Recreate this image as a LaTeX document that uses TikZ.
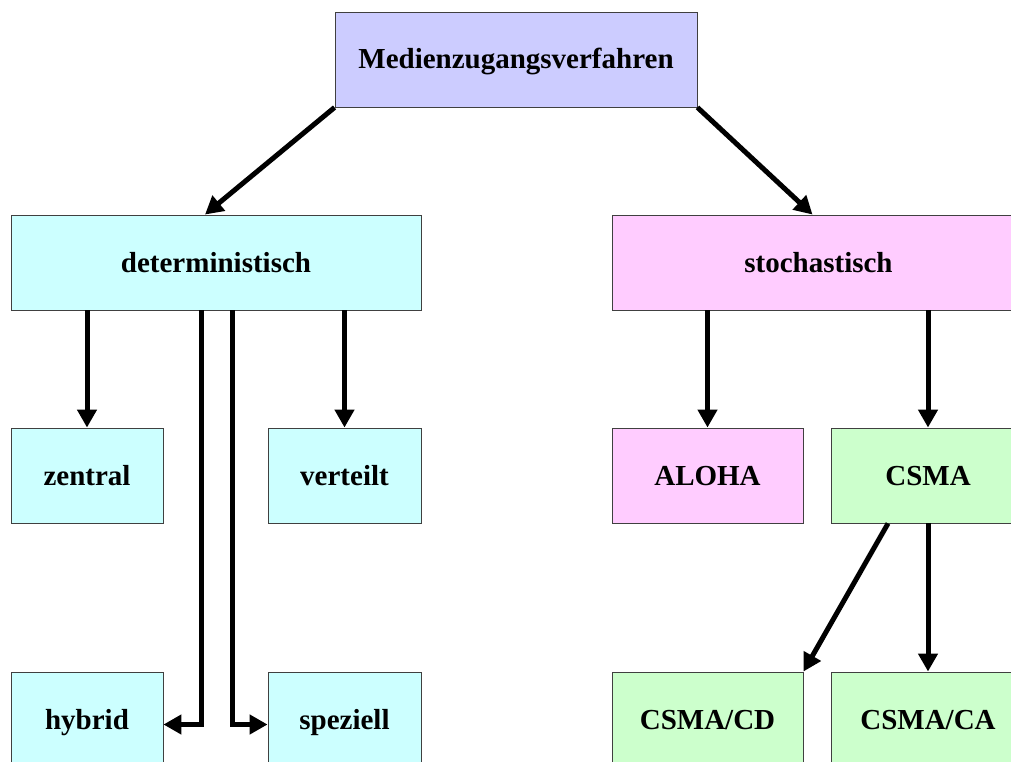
\documentclass[tikz,border=0pt]{standalone}
\usepackage{fontspec}
\setmainfont{Liberation Serif}
\usetikzlibrary{arrows.meta}

\begin{document}
\begin{tikzpicture}[x=1pt,y=-1pt,>={Triangle[length=18pt,width=19pt]},
    box/.style={draw=black!75,line width=0.9pt,minimum height=95pt,inner sep=0pt,
      text height=24pt,text depth=5pt,
      font=\fontsize{29}{34}\selectfont\bfseries},
    link/.style={->,line width=5pt}]
      \useasboundingbox (0,0) rectangle (1011,762);
      \clip (0,0) rectangle (1011,762);

      \node[box,fill={rgb,255:red,204;green,204;blue,255},minimum width=362pt] (mzv) at (516,59.5) {Medienzugangsverfahren};

      \node[box,fill={rgb,255:red,204;green,255;blue,255},minimum width=410pt] (det) at (216,262.5) {deterministisch};
      \node[box,fill={rgb,255:red,255;green,204;blue,255},minimum width=413pt] (sto) at (818.5,262.5) {stochastisch};

      \node[box,fill={rgb,255:red,204;green,255;blue,255},minimum width=152pt] (zen) at (87,475.5) {zentral};
      \node[box,fill={rgb,255:red,204;green,255;blue,255},minimum width=153pt] (ver) at (344.5,475.5) {verteilt};
      \node[box,fill={rgb,255:red,255;green,204;blue,255},minimum width=191pt] (aloha) at (707.5,475.5) {ALOHA};
      \node[box,fill={rgb,255:red,204;green,255;blue,204},minimum width=194pt] (csma) at (928,475.5) {CSMA};

      \node[box,fill={rgb,255:red,204;green,255;blue,255},minimum width=152pt] (hyb) at (87,719.5) {hybrid};
      \node[box,fill={rgb,255:red,204;green,255;blue,255},minimum width=153pt] (spz) at (344.5,719.5) {speziell};
      \node[box,fill={rgb,255:red,204;green,255;blue,204},minimum width=191pt] (cd) at (707.5,719.5) {CSMA/CD};
      \node[box,fill={rgb,255:red,204;green,255;blue,204},minimum width=194pt] (ca) at (928,719.5) {CSMA/CA};

      \draw[link] (mzv.south west) -- ([xshift=-11pt]det.north);
      \draw[link] (mzv.south east) -- ([xshift=-6pt]sto.north);

      \draw[link] (det.south -| zen) -- (zen);
      \draw[link] (det.south -| ver) -- (ver);
      \draw[link] ([xshift=-15pt]det.south) |- ([yshift=-5pt]hyb.east);
      \draw[link] ([xshift=16pt]det.south) |- ([yshift=-5pt]spz.west);

      \draw[link] (sto.south -| aloha) -- (aloha);
      \draw[link] (sto.south -| csma) -- (csma);

      \draw[link] ([xshift=-40pt]csma.south) -- (cd.north east);
      \draw[link] (csma) -- (ca);
    \end{tikzpicture}
\end{document}
